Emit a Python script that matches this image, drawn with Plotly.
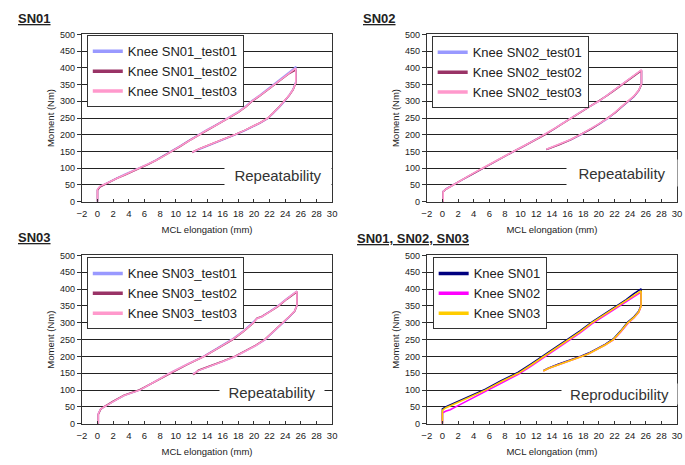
import plotly.graph_objects as go

W, H = 685, 465
FONT = "Liberation Sans, Arial, sans-serif"

# ---- SN01: three repeat tests (elongation in mm, moment in Nm) ----
sn01_load_x = [0.0, 0.0, 0.3, 0.7, 1.5, 2.5, 3.5, 4.5, 5.4, 6.5, 7.5, 8.5, 9.4, 10.5, 11.7,
               12.9, 14.0, 15.2, 16.7, 18.0, 19.0, 19.7, 20.8, 21.7, 22.6, 23.5, 24.4, 25.2, 25.35]
sn01_t1_load = [0, 36, 45, 50, 59, 71, 82, 92, 101, 113, 125, 138, 151, 166, 183,
                201, 215, 230, 251, 269, 286, 301, 319, 335, 351, 368, 385, 400, 404]
sn01_t2_load = [0, 34, 44, 49, 58, 70, 80, 90, 100, 112, 124, 137, 149, 164, 182,
                199, 213, 229, 249, 267, 284, 299, 317, 333, 349, 365, 381, 392, 395]
sn01_t3_load = [0, 37, 46, 51, 59, 70, 81, 91, 100, 112, 124, 137, 150, 165, 182,
                200, 214, 229, 250, 268, 285, 300, 318, 334, 350, 366, 383, 396, 399]
sn01_unload_x = [25.35, 25.0, 24.5, 23.9, 23.2, 22.5, 21.8, 20.8, 19.8, 18.8, 17.6,
                 16.5, 15.3, 14.2, 13.2, 12.5, 12.1]
sn01_t1_unload = [358, 336, 318, 299, 281, 265, 249, 235, 223, 212, 200, 190, 179, 169, 159, 152, 148]
sn01_t2_unload = [354, 334, 317, 300, 283, 266, 250, 236, 224, 213, 201, 191, 180, 170, 160, 152, 147]
sn01_t3_unload = [356, 335, 318, 300, 282, 266, 250, 236, 224, 213, 201, 191, 180, 170, 160, 152, 148]

# ---- SN02 ----
sn02_load_x = [0.1, 0.1, 0.5, 1.35, 2.5, 3.8, 5.1, 6.5, 7.8, 9.1, 10.5, 11.8, 13.1, 14.2,
               15.3, 16.4, 17.6, 18.8, 20.0, 21.0, 22.0, 22.9, 23.8, 24.6, 25.3, 25.45]
sn02_t1_load = [0, 31, 39, 50, 65, 83, 100, 117, 134, 150, 167, 184, 200, 216,
                233, 250, 267, 284, 300, 317, 334, 350, 365, 379, 390, 393]
sn02_t2_load = [0, 30, 38, 50, 65, 82, 99, 116, 133, 150, 167, 183, 200, 216,
                232, 249, 266, 283, 299, 316, 333, 349, 364, 378, 389, 392]
sn02_t3_load = [0, 31, 38, 50, 66, 83, 100, 117, 134, 151, 168, 184, 201, 217,
                233, 250, 267, 284, 300, 317, 334, 350, 365, 380, 391, 394]
sn02_unload_x = [25.45, 25.1, 24.5, 23.7, 22.9, 22.1, 21.2, 20.1, 19.0, 17.7, 16.4, 15.0, 13.9, 13.3]
sn02_t1_unload = [351, 332, 314, 298, 282, 265, 249, 233, 217, 200, 185, 171, 161, 156]
sn02_t2_unload = [350, 332, 315, 300, 283, 266, 250, 233, 217, 200, 185, 171, 161, 156]
sn02_t3_unload = [352, 333, 316, 300, 283, 266, 250, 234, 218, 201, 186, 172, 161, 157]

# ---- SN03 ----
sn03_load_x = [0.1, 0.1, 0.4, 0.8, 2.0, 3.4, 5.4, 7.3, 9.2, 11.4, 13.6, 15.4, 17.2, 18.6,
               19.9, 20.4, 21.0, 22.1, 23.1, 24.2, 25.3, 25.5]
sn03_t1_load = [0, 30, 44, 50, 66, 84, 100, 125, 150, 176, 201, 226, 251, 275,
                301, 313, 318, 334, 351, 372, 390, 394]
sn03_t2_load = [0, 28, 43, 50, 67, 85, 101, 125, 149, 175, 200, 224, 249, 273,
                299, 314, 319, 334, 349, 370, 388, 392]
sn03_t3_load = [0, 30, 44, 50, 66, 84, 100, 125, 150, 176, 200, 225, 250, 274,
                300, 313, 318, 334, 350, 371, 390, 394]
sn03_unload_x = [25.5, 25.2, 24.5, 23.7, 22.6, 21.4, 20.2, 18.9, 17.6, 16.0, 14.3, 12.9, 12.5, 12.2]
sn03_t1_unload = [352, 335, 317, 299, 274, 249, 232, 216, 200, 185, 170, 158, 152, 149]
sn03_t2_unload = [351, 334, 318, 300, 276, 251, 233, 217, 201, 186, 171, 159, 150, 146]
sn03_t3_unload = [352, 335, 318, 300, 275, 250, 232, 216, 200, 185, 170, 158, 152, 148]

# ---- Knee comparison (SN01 / SN02 / SN03) ----
cmp_load_x = [0.0, 0.0, 0.4, 1.0, 2.0, 3.5, 5.5, 7.5, 9.7, 11.3, 12.85, 14.5, 16.2, 17.6,
              19.1, 20.3, 21.4, 22.5, 23.5, 24.4, 25.2, 25.4]
cmp_sn01_load = [0, 44, 50, 56, 66, 82, 103, 128, 153, 177, 201, 226, 253, 276,
                 302, 320, 336, 353, 369, 385, 398, 401]
cmp_sn02_load = [0, 32, 37, 42, 54, 72, 96, 122, 147, 171, 195, 220, 247, 270,
                 297, 315, 331, 347, 363, 378, 388, 391]
cmp_sn03_load = [0, 40, 47, 53, 63, 79, 100, 125, 150, 174, 198, 223, 250, 273,
                 300, 318, 334, 350, 366, 381, 392, 395]
cmp_unload_x = [25.4, 25.1, 24.5, 23.7, 22.8, 21.85, 20.8, 19.7, 18.7, 17.7, 16.3, 14.8, 13.6, 12.9]
cmp_sn01_unload = [352, 334, 318, 302, 276, 252, 236, 222, 210, 201, 190, 177, 166, 158]
cmp_sn02_unload = [349, 331, 315, 298, 273, 249, 234, 220, 208, 199, 188, 175, 165, 157]
cmp_sn03_unload = [350, 332, 316, 300, 274, 250, 234, 220, 208, 199, 188, 175, 165, 157]

panel_titles = ["SN01", "SN02", "SN03", "SN01, SN02, SN03"]
panel_notes = ["Repeatability", "Repeatability", "Repeatability", "Reproducibility"]
x_ticks = [-2, 0, 2, 4, 6, 8, 10, 12, 14, 16, 18, 20, 22, 24, 26, 28, 30]
y_ticks = [0, 50, 100, 150, 200, 250, 300, 350, 400, 450, 500]

test_colors = ["#9999FF", "#993366", "#FF99CC"]
knee_colors = ["#000080", "#FF00FF", "#FFCC00"]

panels = [
    dict(load_x=sn01_load_x, unload_x=sn01_unload_x,
         loads=[sn01_t1_load, sn01_t2_load, sn01_t3_load],
         unloads=[sn01_t1_unload, sn01_t2_unload, sn01_t3_unload],
         names=["Knee SN01_test01", "Knee SN01_test02", "Knee SN01_test03"], colors=test_colors),
    dict(load_x=sn02_load_x, unload_x=sn02_unload_x,
         loads=[sn02_t1_load, sn02_t2_load, sn02_t3_load],
         unloads=[sn02_t1_unload, sn02_t2_unload, sn02_t3_unload],
         names=["Knee SN02_test01", "Knee SN02_test02", "Knee SN02_test03"], colors=test_colors),
    dict(load_x=sn03_load_x, unload_x=sn03_unload_x,
         loads=[sn03_t1_load, sn03_t2_load, sn03_t3_load],
         unloads=[sn03_t1_unload, sn03_t2_unload, sn03_t3_unload],
         names=["Knee SN03_test01", "Knee SN03_test02", "Knee SN03_test03"], colors=test_colors),
    dict(load_x=cmp_load_x, unload_x=cmp_unload_x,
         loads=[cmp_sn01_load, cmp_sn02_load, cmp_sn03_load],
         unloads=[cmp_sn01_unload, cmp_sn02_unload, cmp_sn03_unload],
         names=["Knee SN01", "Knee SN02", "Knee SN03"], colors=knee_colors),
]

# pixel boxes of each plot area: (left, right, top, bottom)
boxes = [(78, 332, 30, 201), (428, 682, 30, 201), (78, 332, 256, 428), (428, 682, 256, 428)]
legend_pos = [(83, 31), (433, 32), (83, 258), (434, 258)]
title_pos = [(11, 14), (361, 14), (11, 238), (355, 239)]
# note boxes: (center x, center y, width, height)
note_boxes = [(277, 174, 106, 26), (626, 172, 110, 26), (271, 395, 104, 20), (624, 398, 115, 20)]


def px(x):
    return x / W


def py(y):
    return 1 - y / H


fig = go.Figure()
layout = dict(
    width=W, height=H, margin=dict(l=0, r=0, t=0, b=0),
    paper_bgcolor="white", plot_bgcolor="white",
    font=dict(family=FONT, color="#222"),
    showlegend=True, annotations=[],
)

for i, p in enumerate(panels):
    sfx = "" if i == 0 else str(i + 1)
    xa, ya = "x" + sfx, "y" + sfx
    leg = "legend" + sfx
    for k in range(3):
        fig.add_trace(go.Scatter(
            x=p["load_x"] + p["unload_x"], y=p["loads"][k] + p["unloads"][k],
            mode="lines", line=dict(color=p["colors"][k], width=1.6),
            xaxis=xa, yaxis=ya, showlegend=False, hoverinfo="skip"))
    for k in range(3):
        # legend entries with a heavier key line
        fig.add_trace(go.Scatter(
            x=[None], y=[None], mode="lines", name=p["names"][k],
            line=dict(color=p["colors"][k], width=3.5),
            xaxis=xa, yaxis=ya, legend=leg))

    l, r, t, b = boxes[i]
    layout["xaxis" + sfx] = dict(
        domain=[px(l), px(r)], anchor=ya, range=[-2, 30],
        tickvals=x_ticks, ticks="inside", ticklen=3, tickcolor="#333",
        showline=True, linecolor="#333", linewidth=1, mirror=True,
        showgrid=False, zeroline=False, ticklabelstandoff=3,
        tickfont=dict(size=9.5, color="#222"),
        title=dict(text="MCL elongation (mm)", font=dict(size=9.5, color="#222"), standoff=8))
    layout["yaxis" + sfx] = dict(
        domain=[py(b), py(t)], anchor=xa, range=[0, 500],
        tickvals=y_ticks, ticks="outside", ticklen=4, tickcolor="#333",
        showline=True, linecolor="#333", linewidth=1, mirror=True,
        showgrid=True, gridcolor="#222", gridwidth=1, zeroline=False,
        tickfont=dict(size=9, color="#222"),
        title=dict(text="Moment (Nm)", font=dict(size=9.5, color="#222"), standoff=3))

    lx, ly = legend_pos[i]
    layout[leg] = dict(
        x=px(lx), y=py(ly), xanchor="left", yanchor="top",
        bgcolor="white", bordercolor="#333", borderwidth=1,
        font=dict(size=13, color="#222", family=FONT),
        tracegroupgap=0, itemclick=False, itemdoubleclick=False)

    tx, ty = title_pos[i]
    layout["annotations"].append(dict(
        text="<b><u>" + panel_titles[i] + "</u></b>", xref="paper", yref="paper",
        x=px(tx), y=py(ty), xanchor="left", yanchor="middle", showarrow=False,
        font=dict(size=13, color="#222", family=FONT)))

    cx, cy, bw, bh = note_boxes[i]
    layout["annotations"].append(dict(
        text=panel_notes[i], xref="paper", yref="paper",
        x=px(cx), y=py(cy), xanchor="center", yanchor="middle", showarrow=False,
        width=bw, height=bh, bgcolor="white", borderpad=0,
        font=dict(size=15, color="#333", family=FONT)))

fig.update_layout(**layout)
fig.write_html("out.html")
